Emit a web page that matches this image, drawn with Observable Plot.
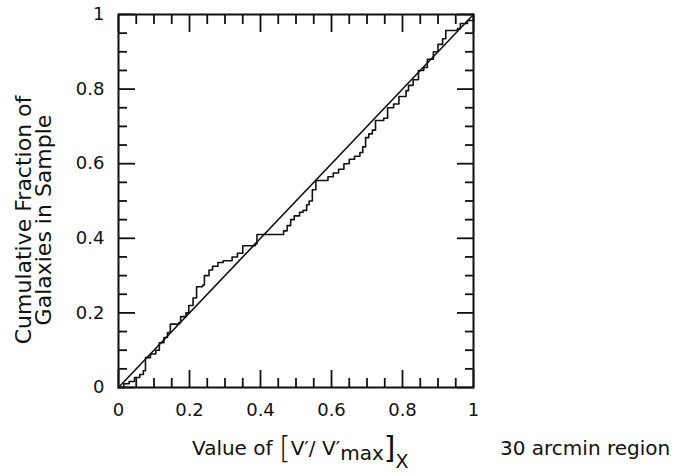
<!DOCTYPE html>
<html>
<head>
<meta charset="utf-8">
<script src="https://cdn.jsdelivr.net/npm/d3@7"></script>
<script src="https://cdn.jsdelivr.net/npm/@observablehq/plot@0.6"></script>
<style>
  html, body { margin: 0; padding: 0; background: #fff; }
  svg { font-family: "DejaVu Sans", sans-serif; }
</style>
</head>
<body>
<div id="chart"></div>
<script>
// Step curve (cumulative fraction)
const vValues = [0, 0.015, 0.03, 0.045, 0.06, 0.07, 0.076, 0.09, 0.105, 0.115, 0.128, 0.138, 0.146, 0.17, 0.175, 0.19, 0.198, 0.21, 0.22, 0.237, 0.242, 0.255, 0.265, 0.28, 0.295, 0.32, 0.335, 0.35, 0.385, 0.39, 0.455, 0.465, 0.475, 0.485, 0.495, 0.51, 0.52, 0.53, 0.537, 0.546, 0.556, 0.59, 0.605, 0.62, 0.635, 0.65, 0.665, 0.68, 0.688, 0.696, 0.705, 0.715, 0.724, 0.747, 0.758, 0.775, 0.79, 0.81, 0.817, 0.83, 0.845, 0.86, 0.87, 0.887, 0.9, 0.913, 0.922, 0.955, 0.963, 0.983, 1];
const fracValues = [0, 0.01, 0.016, 0.027, 0.035, 0.045, 0.08, 0.09, 0.10, 0.12, 0.134, 0.147, 0.17, 0.174, 0.19, 0.20, 0.22, 0.24, 0.27, 0.275, 0.30, 0.315, 0.325, 0.335, 0.34, 0.35, 0.36, 0.38, 0.385, 0.41, 0.41, 0.42, 0.434, 0.45, 0.46, 0.47, 0.475, 0.49, 0.50, 0.53, 0.555, 0.565, 0.575, 0.585, 0.60, 0.612, 0.62, 0.63, 0.645, 0.67, 0.68, 0.69, 0.716, 0.722, 0.75, 0.76, 0.78, 0.796, 0.81, 0.825, 0.85, 0.858, 0.88, 0.90, 0.92, 0.935, 0.957, 0.962, 0.976, 0.984, 1];
// Uniform expectation (diagonal)
const diagV = [0, 1];
const diagF = [0, 1];
// Ticks
const majorTicks = [0, 0.2, 0.4, 0.6, 0.8, 1];
const minorTicks = [0.05, 0.1, 0.15, 0.25, 0.3, 0.35, 0.45, 0.5, 0.55, 0.65, 0.7, 0.75, 0.85, 0.9, 0.95];
const tickLabels = ["0", "0.2", "0.4", "0.6", "0.8", "1"];

const stepData = vValues.map((v, i) => ({v, f: fracValues[i]}));
const diagData = diagV.map((v, i) => ({v, f: diagF[i]}));

const blank = () => "";
const fmt = (d) => tickLabels[majorTicks.indexOf(d)];

const chart = Plot.plot({
  width: 678,
  height: 473,
  marginLeft: 118,
  marginRight: 205,
  marginTop: 14,
  marginBottom: 86,
  x: {domain: [0, 1], axis: null},
  y: {domain: [0, 1], axis: null},
  style: {fontFamily: "DejaVu Sans, sans-serif", color: "#111", background: "#fff"},
  marks: [
    // inward tick marks on all four sides
    Plot.axisX({anchor: "bottom", ticks: majorTicks, tickSize: -17, tickFormat: blank, label: null, strokeWidth: 1.8}),
    Plot.axisX({anchor: "bottom", ticks: minorTicks, tickSize: -9, tickFormat: blank, label: null, strokeWidth: 1.8}),
    Plot.axisX({anchor: "top", ticks: majorTicks, tickSize: -17, tickFormat: blank, label: null, strokeWidth: 1.8}),
    Plot.axisX({anchor: "top", ticks: minorTicks, tickSize: -9, tickFormat: blank, label: null, strokeWidth: 1.8}),
    Plot.axisY({anchor: "left", ticks: majorTicks, tickSize: -17, tickFormat: blank, label: null, strokeWidth: 1.8}),
    Plot.axisY({anchor: "left", ticks: minorTicks, tickSize: -9, tickFormat: blank, label: null, strokeWidth: 1.8}),
    Plot.axisY({anchor: "right", ticks: majorTicks, tickSize: -17, tickFormat: blank, label: null, strokeWidth: 1.8}),
    Plot.axisY({anchor: "right", ticks: minorTicks, tickSize: -9, tickFormat: blank, label: null, strokeWidth: 1.8}),
    // tick labels
    Plot.axisX({anchor: "bottom", ticks: majorTicks, tickSize: 0, tickPadding: 16, tickFormat: fmt, label: null, fontSize: 18}),
    Plot.axisY({anchor: "left", ticks: majorTicks, tickSize: 0, tickPadding: 14, tickFormat: fmt, label: null, fontSize: 18}),
    Plot.frame({stroke: "#111", strokeWidth: 2}),
    Plot.line(diagData, {x: "v", y: "f", stroke: "#111", strokeWidth: 1.6}),
    Plot.line(stepData, {x: "v", y: "f", curve: "step-after", stroke: "#111", strokeWidth: 1.6})
  ]
});

document.getElementById("chart").appendChild(chart);

// Titles as real text
const svg = d3.select(chart);
const yTitle = svg.append("g").attr("fill", "#111").attr("font-size", 22).attr("text-anchor", "middle");
yTitle.append("text").attr("transform", "translate(31,220) rotate(-90)").text("Cumulative Fraction of");
yTitle.append("text").attr("transform", "translate(51,220) rotate(-90)").text("Galaxies in Sample");

const xTitle = svg.append("text").attr("x", 192).attr("y", 455).attr("text-anchor", "start").attr("fill", "#111").attr("font-size", 20);
xTitle.append("tspan").text("Value of ");
xTitle.append("tspan").attr("font-size", 30).attr("font-weight", 200).attr("dy", 3).text("[");
xTitle.append("tspan").attr("dy", -3).text("V′/ V′");
xTitle.append("tspan").attr("dy", 5).text("max");
xTitle.append("tspan").attr("font-size", 30).attr("dy", -2).text("]");
xTitle.append("tspan").attr("font-size", 19).attr("dy", 10).text("X");

svg.append("text").attr("x", 500).attr("y", 455).attr("text-anchor", "start").attr("fill", "#111").attr("font-size", 20).text("30 arcmin region");
</script>
</body>
</html>
